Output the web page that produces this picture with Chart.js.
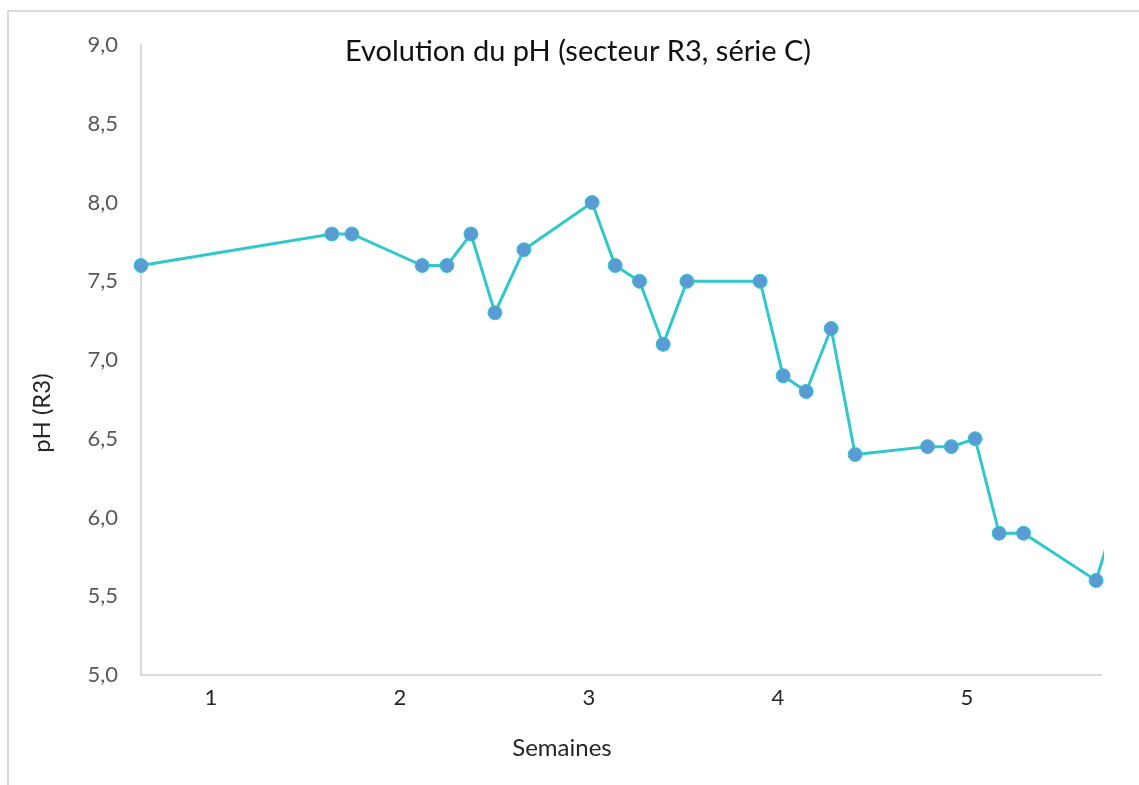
<!DOCTYPE html>
<html lang="fr">
<head>
    <meta charset="UTF-8">
    <title>Evolution du pH</title>
    <script src="https://cdn.jsdelivr.net/npm/chart.js"></script>
    <style>
        body {
            margin: 0;
            background-color: white;
            overflow: hidden;
        }
        .frame {
            position: absolute;
            left: 7px;
            top: 10px;
            width: 1200px;
            height: 800px;
            border-top: 2px solid #d9d9d9;
            border-left: 2px solid #d9d9d9;
        }
        #phChart {
            position: absolute;
            left: 0;
            top: 0;
        }
    </style>
</head>
<body>
    <div class="frame"></div>
    <canvas id="phChart" width="1139" height="785"></canvas>
    <script>
        // semaines (position des mesures) et pH mesuré
        const semaines = [0.63, 1.64, 1.746, 2.118, 2.249, 2.376, 2.503, 2.656, 3.017, 3.139, 3.268, 3.393,
            3.519, 3.906, 4.028, 4.15, 4.282, 4.409, 4.792, 4.918, 5.044, 5.171, 5.3, 5.684, 5.81];
        const phR3 = [7.6, 7.8, 7.8, 7.6, 7.6, 7.8, 7.3, 7.7, 8.0, 7.6, 7.5, 7.1,
            7.5, 7.5, 6.9, 6.8, 7.2, 6.4, 6.45, 6.45, 6.5, 5.9, 5.9, 5.6, 6.1];
        const xTicks = [1, 2, 3, 4, 5];

        const titre = "Evolution du pH (secteur R3, série C)";
        const titreX = "Semaines";
        const titreY = "pH (R3)";

        const textesPlugin = {
            id: "textes",
            afterDraw(chart) {
                const ctx = chart.ctx;
                ctx.save();
                ctx.textAlign = "center";
                ctx.textBaseline = "middle";
                ctx.fillStyle = "#111111";
                ctx.font = "29px Lato";
                ctx.fillText(titre, 578, 52);
                ctx.fillStyle = "#262626";
                ctx.font = "24px Lato";
                ctx.fillText(titreX, 562, 748);
                ctx.translate(42, 413);
                ctx.rotate(-Math.PI / 2);
                ctx.fillText(titreY, 0, 0);
                ctx.restore();
            }
        };

        new Chart(document.getElementById("phChart"), {
            type: "line",
            data: {
                datasets: [{
                    label: "pH",
                    data: semaines.map((s, i) => ({ x: s, y: phR3[i] })),
                    borderColor: "#30C8CA",
                    borderWidth: 3,
                    pointRadius: 7,
                    pointBackgroundColor: "#5B9BD5",
                    pointBorderColor: "#30C8CA",
                    pointBorderWidth: 1,
                    tension: 0,
                    clip: { left: 10, top: 10, right: 3, bottom: 10 }
                }]
            },
            options: {
                responsive: false,
                animation: false,
                layout: { padding: { left: 0, right: 38, top: 45, bottom: 0 } },
                plugins: {
                    legend: { display: false },
                    tooltip: { enabled: false }
                },
                scales: {
                    x: {
                        type: "linear",
                        min: 0.63,
                        max: 5.71,
                        afterBuildTicks: (scale) => { scale.ticks = xTicks.map(v => ({ value: v })); },
                        afterFit: (scale) => { scale.height = 110; },
                        grid: { display: false, drawTicks: false },
                        border: { display: true, color: "#d9d9d9", width: 2 },
                        ticks: {
                            padding: 10,
                            color: "#262626",
                            font: { family: "Lato", size: 22 },
                            maxRotation: 0
                        }
                    },
                    y: {
                        min: 5,
                        max: 9,
                        afterFit: (scale) => { scale.width = 141; },
                        grid: { display: false, drawTicks: false },
                        border: { display: true, color: "#d9d9d9", width: 2 },
                        ticks: {
                            stepSize: 0.5,
                            padding: 23,
                            color: "#595959",
                            font: { family: "Lato", size: 22 },
                            callback: (v) => v.toFixed(1).replace(".", ",")
                        }
                    }
                }
            },
            plugins: [textesPlugin]
        });
    </script>
</body>
</html>
